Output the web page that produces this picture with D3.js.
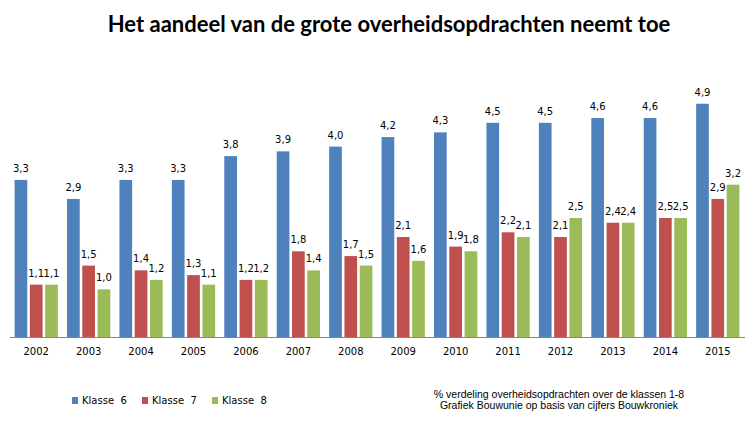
<!DOCTYPE html>
<html>
<head>
<meta charset="utf-8">
<script src="https://cdn.jsdelivr.net/npm/d3@7"></script>
<style>
  html, body { margin: 0; padding: 0; background: #fff; }
  svg { display: block; }
</style>
</head>
<body>
<svg id="chart" width="756" height="427"></svg>
<script>
const years = ["2002","2003","2004","2005","2006","2007","2008","2009","2010","2011","2012","2013","2014","2015"];
const seriesNames = ["Klasse 6", "Klasse 7", "Klasse 8"];
const klasse6 = [3.3, 2.9, 3.3, 3.3, 3.8, 3.9, 4.0, 4.2, 4.3, 4.5, 4.5, 4.6, 4.6, 4.9];
const klasse7 = [1.1, 1.5, 1.4, 1.3, 1.2, 1.8, 1.7, 2.1, 1.9, 2.2, 2.1, 2.4, 2.5, 2.9];
const klasse8 = [1.1, 1.0, 1.2, 1.1, 1.2, 1.4, 1.5, 1.6, 1.8, 2.1, 2.5, 2.4, 2.5, 3.2];
const colors = ["#4F81BD", "#C0504D", "#9BBB59"];
const titleText = "Het aandeel van de grote overheidsopdrachten neemt toe";
const noteLines = ["% verdeling overheidsopdrachten over de klassen 1-8", "Grafiek Bouwunie op basis van cijfers Bouwkroniek"];

const seriesValues = [klasse6, klasse7, klasse8];
const svg = d3.select("#chart");

const x0 = d3.scaleBand().domain(years).range([10, 744]).padding(0);
const x1 = d3.scaleBand().domain(seriesNames).range([0, x0.bandwidth()])
  .paddingInner(0.17).paddingOuter(0.3);
const y = d3.scaleLinear().domain([0, 5]).range([337, 99]);

const fmt = v => d3.format(".1f")(v).replace(".", ",");

// title
svg.append("text")
  .attr("x", 389).attr("y", 32)
  .attr("text-anchor", "middle")
  .attr("font-family", "Lato, 'Open Sans', sans-serif")
  .attr("font-weight", "bold")
  .attr("font-size", 22)
  .attr("fill", "#000")
  .text(titleText);

// bars
const groups = svg.append("g").selectAll("g")
  .data(years)
  .join("g")
  .attr("transform", d => `translate(${x0(d)},0)`);

groups.selectAll("rect")
  .data((d, i) => seriesNames.map((s, j) => ({ s, v: seriesValues[j][i], j })))
  .join("rect")
  .attr("x", d => x1(d.s))
  .attr("y", d => y(d.v))
  .attr("width", x1.bandwidth())
  .attr("height", d => y(0) - y(d.v))
  .attr("fill", d => colors[d.j]);

groups.selectAll("text.val")
  .data((d, i) => seriesNames.map((s, j) => ({ s, v: seriesValues[j][i], j })))
  .join("text")
  .attr("class", "val")
  .attr("x", d => x1(d.s) + x1.bandwidth() / 2)
  .attr("y", d => y(d.v) - 8)
  .attr("text-anchor", "middle")
  .attr("font-family", "'DejaVu Sans', sans-serif")
  .attr("font-size", 10)
  .attr("fill", "#000")
  .text(d => fmt(d.v));

// x axis
const xAxis = d3.axisBottom(x0).tickSize(0).tickPadding(11);
const ax = svg.append("g").attr("transform", "translate(0,337)").call(xAxis);
ax.select(".domain").attr("stroke", "#868686").attr("d", "M10,0.5H745");
ax.selectAll("text")
  .attr("font-family", "'DejaVu Sans', sans-serif")
  .attr("font-size", 10)
  .attr("fill", "#000");

// legend
const legendX = [72, 142, 212];
const leg = svg.append("g").selectAll("g")
  .data(seriesNames)
  .join("g")
  .attr("transform", (d, i) => `translate(${legendX[i]},0)`);
leg.append("rect")
  .attr("x", 0).attr("y", 397)
  .attr("width", 6).attr("height", 7)
  .attr("fill", (d, i) => colors[i]);
leg.append("text")
  .attr("x", 10).attr("y", 404)
  .attr("font-family", "'DejaVu Sans', sans-serif")
  .attr("font-size", 10)
  .attr("fill", "#000")
  .style("white-space", "pre")
  .text(d => d.replace(" ", "  "));

// footnote
svg.append("g").selectAll("text")
  .data(noteLines)
  .join("text")
  .attr("x", 559)
  .attr("y", (d, i) => 398 + i * 11)
  .attr("text-anchor", "middle")
  .attr("font-family", "'Liberation Sans', Arial, sans-serif")
  .attr("font-size", 10.5)
  .attr("fill", "#000")
  .text(d => d);
</script>
</body>
</html>
